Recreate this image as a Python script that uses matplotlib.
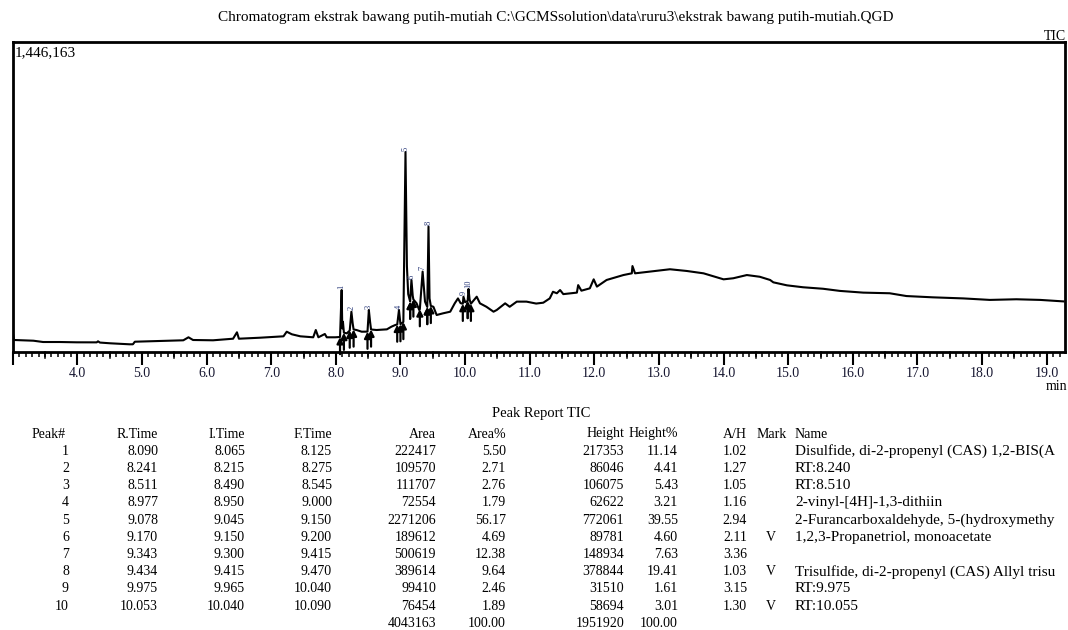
import matplotlib
matplotlib.use('Agg')
import matplotlib.pyplot as plt
import matplotlib.transforms as mtransforms
import numpy as np

plt.rcParams['font.family'] = ['Liberation Serif', 'DejaVu Serif']

# TIC trace (time in min, intensity in counts)
trace_time = [3.00, 3.02, 3.32, 3.47, 3.73, 3.99, 4.30, 4.32, 4.35, 4.51, 4.81, 4.86, 4.89,
              5.28, 5.64, 5.72, 5.79, 6.10, 6.41, 6.47, 6.50, 6.83, 7.19, 7.24, 7.32, 7.45,
              7.65, 7.69, 7.73, 7.83, 7.86, 7.99,
              8.065, 8.090, 8.10, 8.11, 8.125, 8.17, 8.215, 8.241, 8.26, 8.275, 8.32, 8.40,
              8.49, 8.511, 8.53, 8.545, 8.63, 8.79, 8.86, 8.92, 8.95, 8.977, 9.00, 9.045,
              9.078, 9.10, 9.12, 9.15, 9.170, 9.19, 9.20, 9.25, 9.29, 9.30, 9.343, 9.38,
              9.415, 9.434, 9.45, 9.47, 9.51, 9.56, 9.66, 9.77, 9.84, 9.89, 9.93, 9.965,
              9.975, 10.00, 10.04, 10.053, 10.07, 10.09, 10.18, 10.23, 10.33, 10.44, 10.49,
              10.62, 10.69, 10.80, 10.95, 11.10, 11.21, 11.31, 11.36, 11.42, 11.47, 11.52,
              11.73, 11.75, 11.80, 11.93, 11.99, 12.04, 12.19, 12.45, 12.58, 12.59, 12.63,
              12.86, 13.17, 13.43, 13.69, 14.00, 14.15, 14.36, 14.56, 14.72, 14.77, 14.98,
              15.23, 15.54, 15.80, 16.16, 16.57, 16.83, 17.24, 17.71, 18.12, 18.53, 18.90,
              19.26]
trace_int = [94700, 56000, 52700, 46600, 46600, 45200, 45000, 49900, 44000, 40600, 35900, 36000, 48000,
             51300, 54600, 68600, 56000, 54600, 62000, 91900, 62000, 66700, 73200, 94700, 82600, 73200,
             68600, 102600, 68600, 84000, 68600, 68600,
             70000, 289000, 110000, 141000, 90000, 87000, 100000, 188000, 135000, 105000, 102600, 94700,
             95000, 196000, 141000, 105000, 102600, 105700, 118000, 126000, 128000, 196000, 130000, 140000,
             933000, 400000, 270000, 235000, 336000, 262000, 245000, 227000, 196000, 200000, 375000, 235000,
             210000, 585000, 250000, 215000, 211000, 172600, 180500, 188000, 227000, 250000, 228000, 225000,
             258000, 232000, 238000, 294000, 245000, 225000, 258000, 227000, 211000, 188000, 196000,
             227000, 211000, 235000, 235000, 226000, 230000, 250000, 281000, 274000, 289000, 270000,
             277000, 312000, 286000, 297000, 339000, 305000, 336000, 359000, 367000, 401000, 367000,
             375000, 386000, 378000, 367000, 339000, 344000, 359000, 351000, 336000, 325000, 311000,
             302000, 295000, 285000, 277000, 274000, 261000, 255000, 250000, 243000, 246000, 243000,
             236000]

# Peak report TIC
peak_no = [1, 2, 3, 4, 5, 6, 7, 8, 9, 10]
r_time = [8.090, 8.241, 8.511, 8.977, 9.078, 9.170, 9.343, 9.434, 9.975, 10.053]
i_time = [8.065, 8.215, 8.490, 8.950, 9.045, 9.150, 9.300, 9.415, 9.965, 10.040]
f_time = [8.125, 8.275, 8.545, 9.000, 9.150, 9.200, 9.415, 9.470, 10.040, 10.090]
area = [222417, 109570, 111707, 72554, 2271206, 189612, 500619, 389614, 99410, 76454]
area_pct = [5.50, 2.71, 2.76, 1.79, 56.17, 4.69, 12.38, 9.64, 2.46, 1.89]
height = [217353, 86046, 106075, 62622, 772061, 89781, 148934, 378844, 31510, 58694]
height_pct = [11.14, 4.41, 5.43, 3.21, 39.55, 4.60, 7.63, 19.41, 1.61, 3.01]
a_h = [1.02, 1.27, 1.05, 1.16, 2.94, 2.11, 3.36, 1.03, 3.15, 1.30]
mark = ['', '', '', '', '', 'V', '', 'V', '', 'V']
names = ['Disulfide, di-2-propenyl (CAS) 1,2-BIS(A', 'RT:8.240', 'RT:8.510',
         '2-vinyl-[4H]-1,3-dithiin', '2-Furancarboxaldehyde, 5-(hydroxymethy',
         '1,2,3-Propanetriol, monoacetate', '', 'Trisulfide, di-2-propenyl (CAS) Allyl trisu',
         'RT:9.975', 'RT:10.055']

W, H = 1068, 630
fig = plt.figure(figsize=(W / 100, H / 100), dpi=100)

def px(x, y):
    return x / W, 1 - y / H

ax = fig.add_axes([12.7 / W, (H - 352) / H, (1065 - 12.7) / W, (352 - 42) / H])
ax.plot(trace_time, trace_int, color='black', lw=1.5)
ax.set_xlim(3.0, 19.283)
ax.set_ylim(0, 1446163)

for s in ax.spines.values():
    s.set_linewidth(2.0)
ax.set_yticks([])
ax.set_xticks(np.arange(3, 20, 1.0))
ax.set_xticklabels([''] + ['%.1f' % v for v in np.arange(4, 20, 1.0)], fontsize=10)
ax.set_xticks(np.arange(3, 19.29, 0.1), minor=True)
ax.tick_params(axis='x', which='major', length=9, width=1.5, pad=2, labelcolor='#161630')
ax.tick_params(axis='x', which='minor', length=3.5, width=1.1)
# half-minute ticks, a bit longer
tr = mtransforms.blended_transform_factory(ax.transData, ax.transAxes)
for h in np.arange(3.5, 19.29, 1.0):
    ax.plot([h, h], [0, -0.019], transform=tr, color='black', lw=1.1, clip_on=False)

# integration marks and peak numbers
for k in range(len(peak_no)):
    for t in (i_time[k], f_time[k]):
        yb = np.interp(t, trace_time, trace_int)
        ax.annotate('', xy=(t, yb), xytext=(t, yb - 80000),
                    arrowprops=dict(arrowstyle='-|>', color='black', lw=1.6,
                                    mutation_scale=9, shrinkA=0, shrinkB=0))
    ya = np.interp(r_time[k], trace_time, trace_int)
    ax.text(r_time[k], ya + 6000, str(peak_no[k]), rotation=90, fontsize=6,
            ha='center', va='bottom', color='#2a3a7a')

ax.text(0.002, 0.985, '1,446,163', transform=ax.transAxes, fontsize=11, ha='left', va='top')

fig.text(*px(556, 18), 'Chromatogram ekstrak bawang putih-mutiah C:\\GCMSsolution\\data\\ruru3\\ekstrak bawang putih-mutiah.QGD',
         fontsize=11, ha='center', va='center')
fig.text(*px(1066, 36), 'TIC', fontsize=10, ha='right', va='center')
fig.text(*px(1056, 386), 'min', fontsize=10, ha='center', va='center')

# peak report table
fs = 10
fs_name = 11
fig.text(*px(541, 413), 'Peak Report TIC', fontsize=10.5, ha='center', va='center')
hy = 434
headers = [('Peak#', 66, 'right'), ('R.Time', 158, 'right'), ('I.Time', 245, 'right'),
           ('F.Time', 332, 'right'), ('Area', 436, 'right'), ('Area%', 506, 'right'),
           ('Height', 624, 'right'), ('Height%', 678, 'right'), ('A/H', 747, 'right'),
           ('Mark', 757, 'left'), ('Name', 795, 'left')]
for txt, x, al in headers:
    fig.text(*px(x, hy), txt, fontsize=fs, ha=al, va='center')

step = 17.2
for k in range(len(peak_no)):
    y = hy + step * (k + 1)
    row = [(str(peak_no[k]), 69, 'right'), ('%.3f' % r_time[k], 158, 'right'),
           ('%.3f' % i_time[k], 245, 'right'), ('%.3f' % f_time[k], 332, 'right'),
           (str(area[k]), 436, 'right'), ('%.2f' % area_pct[k], 506, 'right'),
           (str(height[k]), 624, 'right'), ('%.2f' % height_pct[k], 678, 'right'),
           ('%.2f' % a_h[k], 747, 'right'), (mark[k], 771, 'center')]
    for txt, x, al in row:
        if txt:
            fig.text(*px(x, y), txt, fontsize=fs, ha=al, va='center')
    if names[k]:
        fig.text(*px(795, y), names[k], fontsize=fs_name, ha='left', va='center')

yt = hy + step * 11
fig.text(*px(436, yt), str(sum(area)), fontsize=fs, ha='right', va='center')
fig.text(*px(506, yt), '%.2f' % 100, fontsize=fs, ha='right', va='center')
fig.text(*px(624, yt), str(sum(height)), fontsize=fs, ha='right', va='center')
fig.text(*px(678, yt), '%.2f' % 100, fontsize=fs, ha='right', va='center')

fig.savefig('out.png', dpi=100)
